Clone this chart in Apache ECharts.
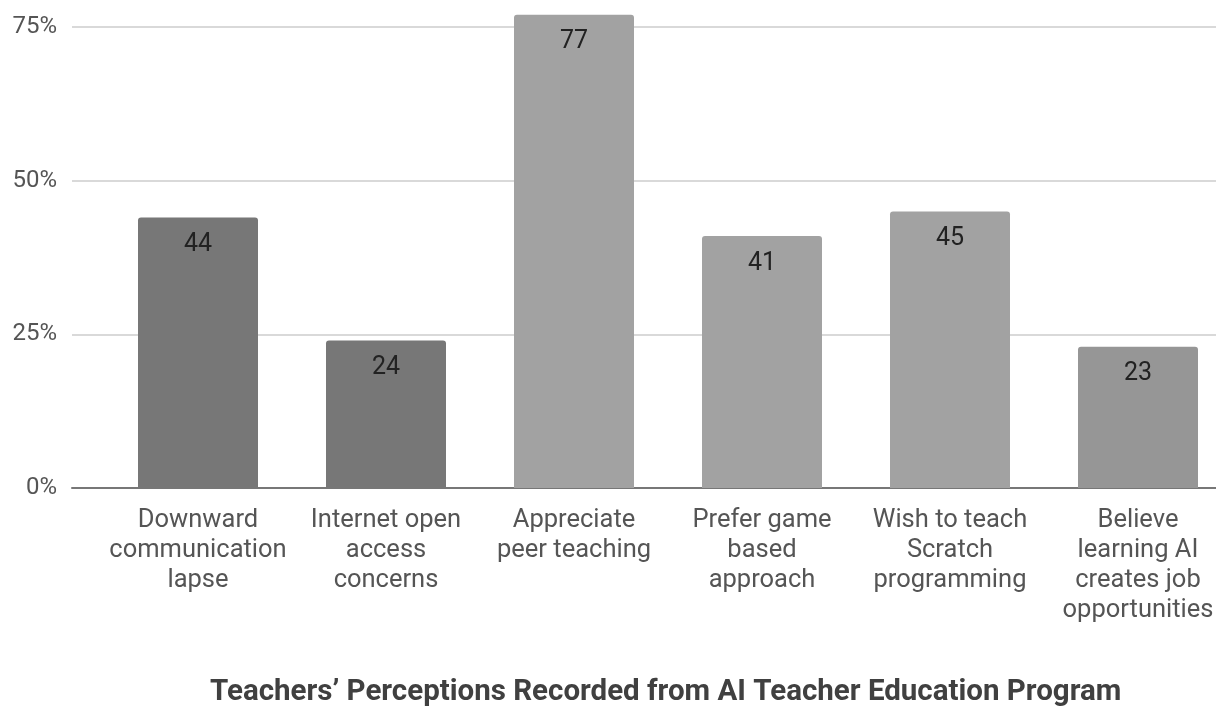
<!DOCTYPE html>
<html>
<head>
<meta charset="utf-8">
<script src="https://cdn.jsdelivr.net/npm/echarts@6/dist/echarts.min.js"></script>
<style>html,body{margin:0;padding:0;background:#fff;overflow:hidden;}#c{width:1232px;height:708px;}</style>
</head>
<body>
<div id="c"></div>
<script>
const categories = [
  "Downward\ncommunication\nlapse",
  "Internet open\naccess\nconcerns",
  "Appreciate\npeer teaching",
  "Prefer game\nbased\napproach",
  "Wish to teach\nScratch\nprogramming",
  "Believe\nlearning AI\ncreates job\nopportunities"
];
const values = [44, 24, 77, 41, 45, 23];
const barColors = ["#777777", "#777777", "#a2a2a2", "#a2a2a2", "#a2a2a2", "#969696"];
const yTicks = [0, 25, 50, 75];
const titleText = "Teachers\u2019 Perceptions Recorded from AI Teacher Education Program";

const FONT = "Roboto";
const chart = echarts.init(document.getElementById('c'), null, {renderer: 'canvas'});
const gridTop = 8.6, gridBottom = 220;
chart.setOption({
  backgroundColor: '#ffffff',
  animation: false,
  title: {
    text: titleText,
    left: 205,
    top: 673,
    textStyle: {fontFamily: FONT, fontWeight: 'bold', fontSize: 29.5, color: '#404040'}
  },
  grid: [
    {left: 72, right: 16, top: gridTop, bottom: gridBottom},
    {left: 104, right: 0, top: gridTop, bottom: gridBottom}
  ],
  xAxis: [
    {type: 'category', gridIndex: 0, data: [''], axisLine: {show: true, lineStyle: {color: '#777', width: 2}},
     axisTick: {show: false}, axisLabel: {show: false}, splitLine: {show: false}},
    {type: 'category', gridIndex: 1, data: categories, axisLine: {show: false}, axisTick: {show: false},
     axisLabel: {interval: 0, margin: 18, fontFamily: FONT, fontSize: 25.5, lineHeight: 30, color: '#555'}}
  ],
  yAxis: [
    {type: 'value', gridIndex: 0, min: 0, max: 78, interval: 25,
     axisLine: {show: false}, axisTick: {show: false},
     axisLabel: {formatter: v => yTicks.includes(v) ? v + '%' : '', showMaxLabel: false, margin: 15,
                 fontFamily: FONT, fontSize: 24, color: '#555'},
     splitLine: {show: true, showMaxLine: false, lineStyle: {color: '#d9d9d9', width: 2}}},
    {type: 'value', gridIndex: 1, min: 0, max: 78, interval: 25, show: false, splitLine: {show: false}}
  ],
  series: [{
    type: 'bar',
    xAxisIndex: 1, yAxisIndex: 1,
    data: values.map((v, i) => ({value: v, itemStyle: {color: barColors[i]}})),
    barWidth: 120,
    itemStyle: {borderRadius: [3, 3, 0, 0]},
    label: {show: true, position: 'insideTop', distance: 15, fontFamily: FONT, fontSize: 25, color: '#222'},
    z: 3
  }]
});
</script>
</body>
</html>
